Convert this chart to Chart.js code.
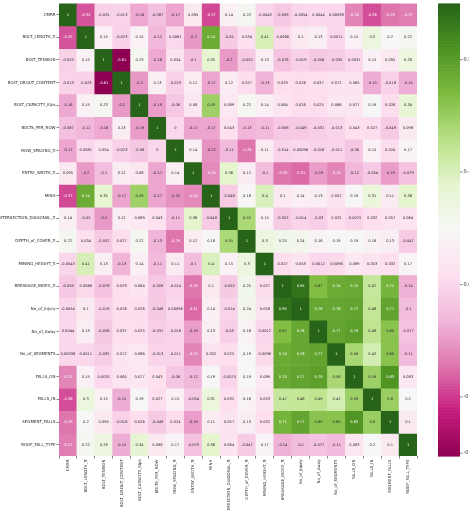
<!DOCTYPE html>
<html>
<head>
<meta charset="utf-8">
<script src="https://cdn.jsdelivr.net/npm/chart.js@4.4.1/dist/chart.umd.min.js"></script>
<style>
  html, body { margin: 0; padding: 0; background: #fff; }
  canvas { display: block; }
</style>
</head>
<body>
<canvas id="corrChart" width="469" height="511"></canvas>
<script>
// Feature names (rows and columns share the same order)
const features = [
    "CMRR", "BOLT_LENGTH_ft", "BOLT_TENSION", "BOLT_GROUT_CONTENT", "BOLT_CAPACITY_Kips",
    "BOLTS_PER_ROW", "ROW_SPACING_ft", "ENTRY_WIDTH_ft", "MINH", "INTERSECTION_DIAGONAL_ft",
    "DEPTH_of_COVER_ft", "MINING_HEIGHT_ft", "BREAKAGE_INDEX_ft", "No_of_Injury", "No_of_Away",
    "No_of_SEGMENTS", "FALLS_ON", "FALLS_IN", "SEGMENT_FALLS", "ROOF_FALL_TYPE"
];

// Correlation values, one row per feature
const rowCMRR      = [1, -0.35, -0.025, -0.013, -0.16, -0.087, -0.17, 0.095, -0.37, 0.14, 0.22, -0.0043, -0.059, -0.0054, 0.0044, 0.00038, -0.25, -0.36, -0.29, -0.27];
const rowBoltLen   = [-0.35, 1, 0.15, -0.023, 0.15, -0.12, 0.0081, -0.2, 0.74, -0.05, 0.034, 0.41, 0.0066, 0.1, 0.13, 0.0011, 0.15, 0.3, 0.2, 0.22];
const rowTension   = [-0.025, 0.15, 1, -0.61, 0.23, -0.16, 0.054, -0.1, 0.35, -0.2, -0.052, 0.13, -0.078, -0.019, -0.056, -0.035, 0.0031, 0.15, 0.095, 0.28];
const rowGrout     = [-0.013, -0.023, -0.61, 1, -0.2, 0.13, -0.023, 0.12, -0.17, 0.12, 0.027, -0.13, 0.029, 0.026, 0.037, 0.072, 0.065, -0.15, -0.018, -0.15];
const rowCapacity  = [-0.16, 0.15, 0.23, -0.2, 1, -0.19, -0.06, 0.08, 0.59, 0.089, 0.22, 0.14, 0.064, 0.026, 0.025, 0.086, 0.077, 0.19, 0.026, 0.34];
const rowPerRow    = [-0.087, -0.12, -0.16, 0.13, -0.19, 1, 0, -0.17, -0.17, 0.043, -0.13, -0.11, -0.059, -0.049, -0.031, -0.013, 0.043, 0.027, -0.049, 0.098];
const rowSpacing   = [-0.17, 0.0081, 0.054, -0.023, -0.06, 0, 1, 0.14, -0.22, -0.11, -0.29, 0.11, -0.014, 0.00096, -0.016, -0.011, -0.06, 0.15, 0.024, 0.17];
const rowEntry     = [0.095, -0.2, -0.1, 0.12, 0.08, -0.17, 0.14, 1, -0.24, 0.36, 0.12, -0.1, -0.29, -0.31, -0.19, -0.25, -0.12, -0.054, -0.19, -0.079];
const rowMinh      = [-0.37, 0.74, 0.35, -0.17, 0.59, -0.17, -0.22, -0.24, 1, -0.048, 0.18, 0.4, 0.1, 0.14, 0.13, 0.052, 0.19, 0.31, 0.11, 0.36];
const rowDiagonal  = [0.14, -0.05, -0.2, 0.12, 0.089, 0.043, -0.11, 0.36, -0.048, 1, 0.55, 0.15, -0.052, -0.014, -0.03, 0.025, -0.0075, 0.032, 0.057, 0.064];
const rowDepth     = [0.22, 0.034, -0.052, 0.027, 0.22, -0.13, -0.29, 0.12, 0.18, 0.55, 1, 0.3, 0.25, 0.24, 0.16, 0.19, 0.19, 0.16, 0.13, -0.047];
const rowMiningH   = [-0.0043, 0.41, 0.13, -0.13, 0.14, -0.11, 0.11, -0.1, 0.4, 0.15, 0.3, 1, 0.027, 0.058, 0.0012, 0.0096, 0.089, 0.053, 0.032, 0.17];
const rowBreakage  = [-0.059, 0.0066, -0.078, 0.029, 0.064, -0.059, -0.014, -0.29, 0.1, -0.052, 0.25, 0.027, 1, 0.95, 0.67, 0.74, 0.75, 0.47, 0.71, -0.14];
const rowInjury    = [-0.0054, 0.1, -0.019, 0.026, 0.026, -0.049, 0.00096, -0.31, 0.14, -0.014, 0.24, 0.058, 0.95, 1, 0.76, 0.76, 0.77, 0.48, 0.77, -0.1];
const rowAway      = [0.0044, 0.13, -0.056, 0.037, 0.025, -0.031, -0.016, -0.19, 0.13, -0.03, 0.16, 0.0012, 0.67, 0.76, 1, 0.77, 0.79, 0.49, 0.65, -0.077];
const rowSegments  = [0.00038, 0.0011, -0.035, 0.072, 0.086, -0.013, -0.011, -0.25, 0.052, 0.025, 0.19, 0.0096, 0.74, 0.76, 0.77, 1, 0.56, 0.42, 0.65, -0.11];
const rowFallsOn   = [-0.25, 0.15, 0.0031, 0.065, 0.077, 0.043, -0.06, -0.12, 0.19, -0.0075, 0.19, 0.089, 0.75, 0.77, 0.79, 0.56, 1, 0.59, 0.83, 0.083];
const rowFallsIn   = [-0.36, 0.3, 0.15, -0.15, 0.19, 0.027, 0.15, -0.054, 0.31, 0.032, 0.16, 0.053, 0.47, 0.48, 0.49, 0.42, 0.59, 1, 0.6, 0.2];
const rowSegFalls  = [-0.29, 0.2, 0.095, -0.018, 0.026, -0.049, 0.024, -0.19, 0.11, 0.057, 0.13, 0.032, 0.71, 0.77, 0.65, 0.65, 0.83, 0.6, 1, 0.1];
const rowRoofType  = [-0.27, 0.22, 0.28, -0.15, 0.34, 0.098, 0.17, -0.079, 0.36, 0.064, -0.047, 0.17, -0.14, -0.1, -0.077, -0.11, 0.083, 0.2, 0.1, 1];

const corrMatrix = [
    rowCMRR, rowBoltLen, rowTension, rowGrout, rowCapacity, rowPerRow, rowSpacing,
    rowEntry, rowMinh, rowDiagonal, rowDepth, rowMiningH, rowBreakage, rowInjury,
    rowAway, rowSegments, rowFallsOn, rowFallsIn, rowSegFalls, rowRoofType
];

// Colour bar range and ticks
const colorMin = -0.61;
const colorMax = 1;
const colorbarTicks = [0.8, 0.4, 0.0, -0.4, -0.6];

// PiYG stops
const piyg = [
    [142, 1, 82], [197, 27, 125], [222, 119, 174], [241, 182, 218], [253, 224, 239],
    [247, 247, 247], [230, 245, 208], [184, 225, 134], [127, 188, 65], [77, 146, 33], [39, 100, 25]
];

function cmap(v) {
    let t = (v - colorMin) / (colorMax - colorMin);
    t = Math.max(0, Math.min(1, t));
    const pos = t * (piyg.length - 1);
    const i = Math.min(Math.floor(pos), piyg.length - 2);
    const f = pos - i;
    const a = piyg[i], b = piyg[i + 1];
    return [0, 1, 2].map(k => Math.round(a[k] + (b[k] - a[k]) * f));
}

function rgb(c) { return `rgb(${c[0]},${c[1]},${c[2]})`; }

function luminance(c) {
    const lin = c.map(x => {
        x = x / 255;
        return x <= 0.03928 ? x / 12.92 : Math.pow((x + 0.055) / 1.055, 2.4);
    });
    return 0.2126 * lin[0] + 0.7152 * lin[1] + 0.0722 * lin[2];
}

function fmt2g(v) {
    return parseFloat(v.toPrecision(2)).toString();
}

const FONT = "'DejaVu Sans', sans-serif";

// cell text + colour bar
const heatmapExtras = {
    id: 'heatmapExtras',
    afterDatasetsDraw(chart) {
        const ctx = chart.ctx;
        ctx.save();
        ctx.font = `3.6px ${FONT}`;
        ctx.textAlign = 'center';
        ctx.textBaseline = 'middle';
        corrMatrix.forEach((row, i) => {
            const meta = chart.getDatasetMeta(i);
            meta.data.forEach((bar, j) => {
                const c = cmap(row[j]);
                ctx.fillStyle = luminance(c) > 0.408 ? '#262626' : '#ffffff';
                ctx.fillText(fmt2g(row[j]), bar.x, (bar.y + bar.base) / 2);
            });
        });
        ctx.restore();
    },
    afterDraw(chart) {
        const ctx = chart.ctx;
        const cb = chart.scales.cb;
        const x0 = cb.left + 21, x1 = cb.left + 43;
        ctx.save();
        const steps = 300;
        for (let s = 0; s < steps; s++) {
            const v0 = colorMin + (colorMax - colorMin) * s / steps;
            const v1 = colorMin + (colorMax - colorMin) * (s + 1) / steps;
            const ya = cb.getPixelForValue(v0), yb = cb.getPixelForValue(v1);
            ctx.fillStyle = rgb(cmap((v0 + v1) / 2));
            ctx.fillRect(x0, yb, x1 - x0, ya - yb + 0.6);
        }
        ctx.strokeStyle = '#333';
        ctx.lineWidth = 0.6;
        ctx.fillStyle = '#262626';
        ctx.font = `5px ${FONT}`;
        ctx.textAlign = 'left';
        ctx.textBaseline = 'middle';
        colorbarTicks.forEach(t => {
            const y = cb.getPixelForValue(t);
            ctx.beginPath();
            ctx.moveTo(x1, y);
            ctx.lineTo(x1 + 2.5, y);
            ctx.stroke();
            ctx.fillText(t.toFixed(1), x1 + 3.5, y);
        });
        ctx.restore();
    }
};

const datasets = corrMatrix.map((row, i) => ({
    label: features[i],
    data: row.map(() => [i - 0.5, i + 0.5]),
    backgroundColor: row.map(v => rgb(cmap(v))),
    borderWidth: 0,
    grouped: false,
    barPercentage: 1,
    categoryPercentage: 1,
    yAxisID: 'y'
}));

new Chart(document.getElementById('corrChart'), {
    type: 'bar',
    data: { labels: features, datasets: datasets },
    options: {
        responsive: false,
        animation: false,
        layout: { padding: { top: 3, left: 0, right: 0, bottom: 0 } },
        plugins: { legend: { display: false }, tooltip: { enabled: false } },
        scales: {
            x: {
                type: 'category',
                offset: true,
                grid: { display: true, drawOnChartArea: false, drawTicks: true, tickLength: 2.5, color: '#333', lineWidth: 0.6 },
                border: { display: false },
                ticks: {
                    autoSkip: false, maxRotation: 90, minRotation: 90, padding: 1,
                    color: '#262626', font: { family: FONT, size: 4 }
                },
                afterFit: scale => { scale.height = 55; }
            },
            y: {
                type: 'linear',
                reverse: true,
                min: -0.5,
                max: 19.5,
                grid: { display: true, drawOnChartArea: false, drawTicks: true, tickLength: 2.5, color: '#333', lineWidth: 0.6 },
                border: { display: false },
                afterBuildTicks: scale => { scale.ticks = features.map((_, i) => ({ value: i })); },
                ticks: {
                    padding: 1, color: '#262626', font: { family: FONT, size: 4 },
                    callback: v => features[v]
                },
                afterFit: scale => { scale.width = 59; }
            },
            cb: {
                type: 'linear',
                position: 'right',
                min: colorMin,
                max: colorMax,
                grid: { display: false },
                border: { display: false },
                ticks: { display: false },
                afterFit: scale => { scale.width = 52; }
            }
        }
    },
    plugins: [heatmapExtras]
});
</script>
</body>
</html>
